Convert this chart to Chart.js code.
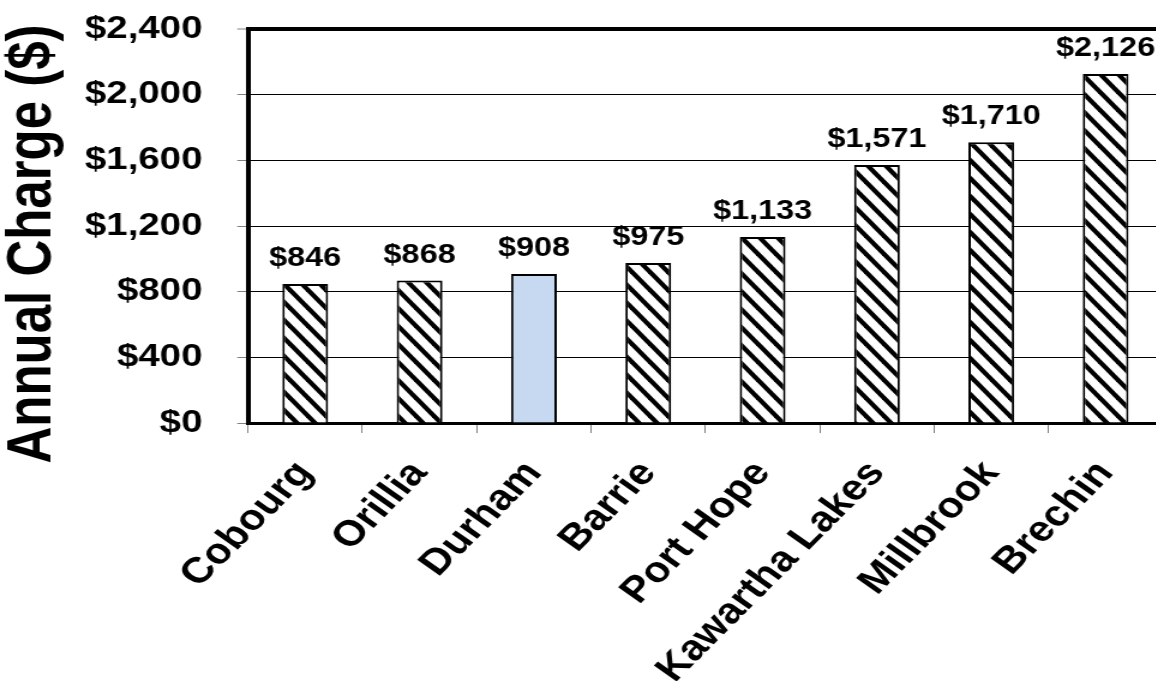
<!DOCTYPE html>
<html>
<head>
<meta charset="utf-8">
<script src="https://cdn.jsdelivr.net/npm/chart.js@4.4.0/dist/chart.umd.min.js"></script>
<style>
  html, body { margin: 0; padding: 0; overflow: hidden; background: #fff; }
  /* the reference is stretched sideways, so the chart is drawn narrow and widened */
  #chart { display: block; transform: scaleX(1.2); transform-origin: 0 0; }
</style>
</head>
<body>
<canvas id="chart" width="975" height="681"></canvas>
<script>
const categories = ["Cobourg", "Orillia", "Durham", "Barrie", "Port Hope", "Kawartha Lakes", "Millbrook", "Brechin"];
const charges = [846, 868, 908, 975, 1133, 1571, 1710, 2126];
const highlighted = "Durham";
const yMax = 2400;
const yStep = 400;
const yTitle = "Annual Charge ($)";

const FONT = "'Liberation Sans', Arial, sans-serif";

const money = (v) => "$" + v.toLocaleString("en-US");

// diagonal hatch like the excel "wide downward diagonal" fill
function hatchPattern() {
  const w = 15, h = 18;
  const tile = document.createElement("canvas");
  tile.width = w;
  tile.height = h;
  const c = tile.getContext("2d");
  c.fillStyle = "#fff";
  c.fillRect(0, 0, w, h);
  c.strokeStyle = "#000";
  c.lineWidth = 4.2;
  for (let k = -1; k <= 1; k++) {
    c.beginPath();
    c.moveTo(k * w - w, -h);
    c.lineTo(k * w + 2 * w, 2 * h);
    c.stroke();
  }
  return c.createPattern(tile, "repeat");
}

const ctx = document.getElementById("chart").getContext("2d");
const hatch = hatchPattern();
const fills = categories.map((c) => (c === highlighted ? "#c6d9f0" : hatch));

const barLabels = {
  id: "barLabels",
  afterDatasetsDraw(chart) {
    const g = chart.ctx;
    const meta = chart.getDatasetMeta(0);
    g.save();
    g.font = "bold 27px " + FONT;
    g.fillStyle = "#000";
    g.textAlign = "center";
    g.textBaseline = "alphabetic";
    meta.data.forEach((bar, i) => {
      g.fillText(money(charges[i]), bar.x, bar.y - 18);
    });
    g.restore();
  },
};

const yAxisTitle = {
  id: "yAxisTitle",
  afterDraw(chart) {
    const g = chart.ctx;
    g.save();
    g.translate(42, 244);
    g.rotate(-Math.PI / 2);
    g.font = "bold 51px " + FONT;
    g.fillStyle = "#000";
    g.textAlign = "center";
    g.textBaseline = "alphabetic";
    g.fillText(yTitle, 0, 0);
    g.restore();
  },
};

new Chart(ctx, {
  type: "bar",
  data: {
    labels: categories,
    datasets: [
      {
        data: charges,
        backgroundColor: fills,
        borderColor: "#000",
        borderWidth: 2,
        barPercentage: 0.4,
        categoryPercentage: 1,
      },
    ],
  },
  options: {
    responsive: false,
    animation: false,
    devicePixelRatio: 1,
    layout: { padding: { top: 29, right: 6, left: 0, bottom: 0 } },
    scales: {
      y: {
        min: 0,
        max: yMax,
        afterFit: (s) => {
          s.width = 206.7;
          s.paddingTop = 0;
          s.paddingBottom = 0;
        },
        ticks: {
          stepSize: yStep,
          callback: (v) => money(v),
          color: "#000",
          padding: 29,
          font: { family: FONT, size: 32, weight: "bold" },
        },
        grid: {
          color: "#000",
          lineWidth: (c) => (c.tick && c.tick.value === yMax ? 4 : 1),
          tickColor: "#808080",
          tickWidth: 1,
          tickLength: 9,
        },
        border: { color: "#000", width: 4 },
      },
      x: {
        afterFit: (s) => { s.height = 258; },
        ticks: {
          color: "#000",
          autoSkip: false,
          minRotation: 50,
          maxRotation: 50,
          padding: 20,
          font: { family: FONT, size: 36, weight: "bold" },
        },
        grid: {
          offset: true,
          drawOnChartArea: false,
          tickColor: "#808080",
          tickLength: 10,
        },
        border: { color: "#000", width: 3 },
      },
    },
    plugins: {
      legend: { display: false },
      tooltip: { enabled: false },
    },
  },
  plugins: [barLabels, yAxisTitle],
});
</script>
</body>
</html>
